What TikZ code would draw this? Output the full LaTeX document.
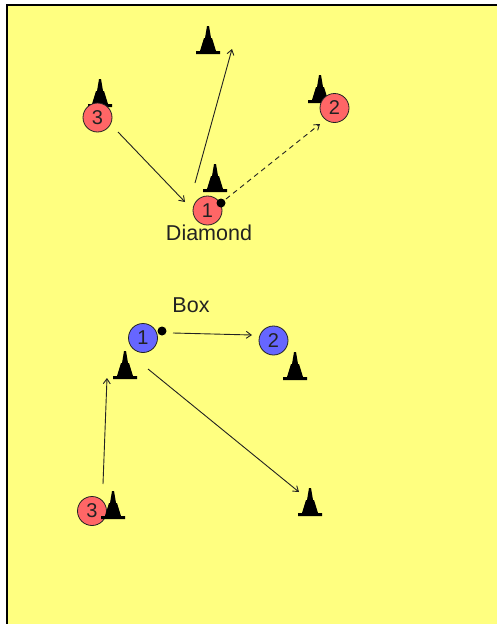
\documentclass[tikz,border=0pt]{standalone}
\usepackage{fontspec}
\setmainfont{Liberation Sans}
\usetikzlibrary{arrows.meta}
\definecolor{pitch}{HTML}{FFFF80}
\definecolor{redp}{HTML}{FF6666}
\definecolor{bluep}{HTML}{6666FF}
\definecolor{ink}{HTML}{222222}
\tikzset{
  player/.style={circle,draw=ink,line width=0.8pt,minimum size=29pt,inner sep=0pt,
    font=\fontsize{20}{20}\selectfont,text=ink},
  red player/.style={player,fill=redp},
  blue player/.style={player,fill=bluep},
  ball/.style={circle,fill=black,minimum size=9pt,inner sep=0pt},
  label text/.style={font=\fontsize{21.5}{21.5}\selectfont,text=ink},
  run/.style={draw=ink,line width=0.9pt,-{Straight Barb[length=5pt,width=7pt]}},
  pass/.style={run,dash pattern=on 5pt off 4pt},
  cone/.pic={\fill[black] (-12,0) -- (12,0) -- (12,-3) -- (8,-3) -- (4,-16) -- (3,-16)
     -- (1,-28) -- (-1,-28) -- (-3,-16) -- (-4,-16) -- (-8,-3) -- (-12,-3) -- cycle;}
}
\begin{document}
\begin{tikzpicture}[x=1pt,y=-1pt]
\useasboundingbox (0,0) rectangle (497,624);
\fill[white] (0,0) rectangle (497,624);
\fill[pitch] (6.5,4.5) rectangle (497,624);
\draw[black,line width=2pt] (6.5,624) -- (6.5,4.5) -- (497,4.5);
% cones (behind players)
\pic at (208,54) {cone};
\pic at (100,107) {cone};
\pic at (215,192) {cone};
\pic at (320,103) {cone};
\pic at (125,379) {cone};
\pic at (295,380) {cone};
\pic at (310,516) {cone};
% Diamond
\node[red player] (d3) at (97.5,117.5) {3};
\node[red player] (d1) at (207.5,210.5) {1};
\node[red player] (d2) at (334.5,108) {2};
\node[ball] (dball) at (221,203) {};
\node[label text] (dlabel) at (209,233) {Diamond};
% Box
\node[blue player] (b1) at (143,338) {1};
\node[blue player] (b2) at (273.5,340.5) {2};
\node[red player] (b3) at (92,511) {3};
\node[ball] (bball) at (162,331) {};
\node[label text] (blabel) at (191,305) {Box};
\pic at (113,519) {cone};
% connector end points
\coordinate (a1s) at (118,132); \coordinate (a1e) at (185,202);
\coordinate (a2s) at (195,183); \coordinate (a2e) at (232,49);
\coordinate (a3s) at (226,199); \coordinate (a3e) at (320,124);
\coordinate (b1s) at (173,333); \coordinate (b1e) at (252,335);
\coordinate (b2s) at (103,484); \coordinate (b2e) at (107,378);
\coordinate (b3s) at (148,369); \coordinate (b3e) at (299,492);
\draw[run] (a1s) -- (a1e);
\draw[run] (a2s) -- (a2e);
\draw[pass] (a3s) -- (a3e);
\draw[run] (b1s) -- (b1e);
\draw[run] (b2s) -- (b2e);
\draw[run] (b3s) -- (b3e);
\end{tikzpicture}
\end{document}
